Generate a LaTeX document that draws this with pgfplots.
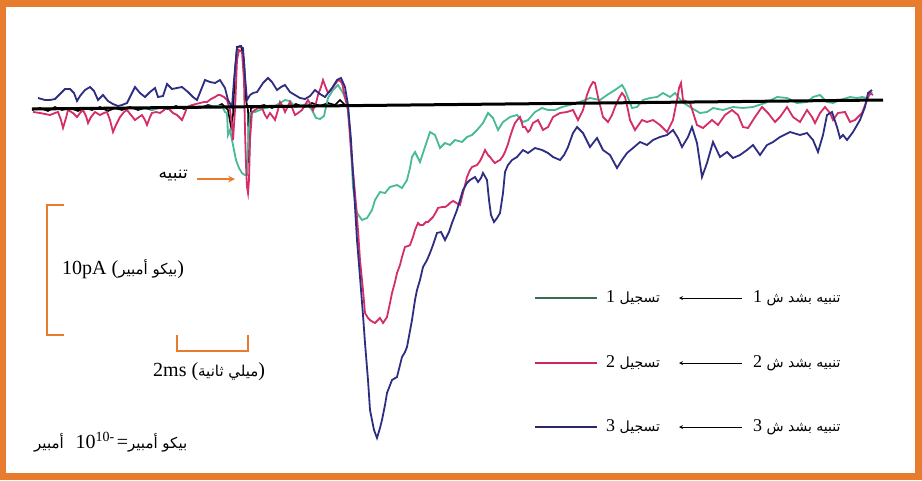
\documentclass[border=0pt]{standalone}
\usepackage{fontspec}
\usepackage{pgfplots}
\pgfplotsset{compat=1.18}
\setmainfont{Liberation Serif}
\newfontfamily\arabicfont[Script=Arabic]{DejaVu Sans}
\TeXXeTstate=1
\definecolor{frameor}{RGB}{232,124,46}
\definecolor{tealc}{RGB}{72,186,150}
\definecolor{magc}{RGB}{212,45,105}
\definecolor{navyc}{RGB}{45,45,130}
\definecolor{leggreen}{RGB}{55,110,80}
\definecolor{legmag}{RGB}{200,40,90}
\definecolor{legnavy}{RGB}{40,40,100}
\newcommand{\lat}{\rmfamily\fontsize{18}{20}\selectfont}
\newcommand{\latb}{\rmfamily\fontsize{20}{22}\selectfont}
\newcommand{\ar}{\arabicfont\fontsize{14}{16}\selectfont}
\newcommand{\arb}{\arabicfont\fontsize{15}{17}\selectfont}
\begin{document}
\begin{tikzpicture}
\begin{axis}[width=922pt,height=480pt,scale only axis,
  xmin=0,xmax=922,ymin=0,ymax=480,y dir=reverse,hide axis,clip=false]
\fill[frameor] (axis cs:0,0) rectangle (axis cs:922,480);
\fill[white] (axis cs:6,7) rectangle (axis cs:915,473);
% black noisy baseline recording
\addplot[black,line width=1.6pt] coordinates {
(32,110) (40,108) (48,111) (55,107) (62,110) (70,108) (78,111) (85,108) (92,110) (100,107) (108,111) (115,108) (122,110) (130,107) (138,110) (145,108) (152,110) (160,107) (168,109) (176,106) (184,109) (192,106) (200,108) (208,105) (216,107) (222,104) (228,110) (231,127) (233,115) (235,70) (237,47) (241,46) (244,60) (246,100) (248,110) (249,163) (250,130) (251,108) (256,107) (264,105) (272,108) (280,105) (288,107) (296,104) (304,107) (312,103) (320,106) (328,103) (335,105) (340,100) (345,105) (350,106)
};
% teal trace (recording 1)
\addplot[tealc,line width=1.8pt] coordinates {
(35,109) (50,109) (70,108.5) (90,108.4) (110,108) (130,108) (150,108.5) (152,110) (160,107.5) (180,107.3) (200,107) (210,106.5) (217,106) (222,106) (225,112) (227,113) (228,135) (230,130) (233,145) (236,160) (239,168) (242,173) (245,175) (247,175) (248,145) (250,113) (255,112) (265,108) (275,106) (285,100) (290,101) (295,107) (300,106) (307,104) (312,110) (316,118) (320,119) (324,116) (328,98) (333,90) (338,85) (343,93) (347,103) (350,130) (353,187) (357,213) (362,220) (367,218) (372,210) (375,200) (380,192) (385,193) (390,187) (397,185) (402,188) (407,180) (410,168) (412,157) (415,152) (420,162) (425,147) (430,132) (435,135) (440,148) (445,143) (450,145) (455,140) (462,142) (467,137) (472,135) (477,130) (483,123) (488,113) (493,118) (498,130) (503,122) (510,117) (517,115) (523,122) (528,120) (535,112) (542,108) (548,110) (555,110) (562,107) (570,105) (580,102) (590,98) (600,100) (607,95) (615,90) (622,85) (625,90) (632,108) (637,107) (643,100) (650,98) (657,97) (663,93) (670,97) (675,93) (682,102) (690,107) (700,113) (707,112) (713,108) (723,110) (733,107) (743,108) (753,107) (765,103) (777,97) (787,98) (797,103) (807,102) (813,97) (820,95) (827,102) (833,103) (840,100) (850,97) (857,98) (862,97) (867,98) (872,92)
};
% magenta trace (recording 2)
\addplot[magc,line width=1.8pt] coordinates {
(33,112) (40,113) (50,115) (55,113) (58,112) (61,120) (63,128) (66,118) (68,110) (73,113) (77,117) (80,113) (83,110) (86,116) (88,123) (91,117) (95,112) (100,115) (104,113) (107,112) (110,120) (113,132) (116,125) (120,117) (124,112) (127,110) (131,115) (135,120) (139,117) (142,115) (145,120) (147,125) (150,117) (152,113) (156,112) (160,113) (164,110) (167,107) (170,110) (173,113) (177,115) (180,118) (182,120) (185,113) (187,107) (192,105) (196,104) (200,103) (204,102) (207,102) (211,99) (215,97) (218,95) (220,95) (224,97) (227,100) (230,110) (232,125) (233,140) (235,110) (237,60) (239,50) (242,52) (244,80) (245,130) (246,165) (247,187) (248,193) (249,180) (250,140) (252,112) (255,110) (258,108) (262,108) (265,115) (267,118) (270,113) (273,117) (275,120) (278,110) (280,102) (283,107) (285,112) (288,106) (290,102) (293,110) (295,115) (298,113) (302,110) (305,105) (308,100) (311,105) (313,110) (316,103) (318,95) (321,87) (323,80) (326,88) (328,93) (331,90) (333,87) (336,83) (338,80) (340,81) (342,83) (345,97) (348,110) (351,150) (355,193) (358,230) (360,260) (363,290) (365,313) (368,318) (370,320) (373,322) (375,323) (378,320) (380,318) (383,323) (385,320) (387,317) (390,303) (392,293) (395,282) (397,273) (400,265) (402,257) (405,247) (408,246) (410,245) (413,237) (415,230) (418,223) (420,225) (423,225) (426,222) (428,222) (431,219) (433,217) (436,212) (438,208) (442,207) (445,207) (448,205) (450,203) (453,201) (455,202) (458,204) (460,205) (463,193) (467,177) (470,170) (472,167) (477,165) (480,161) (482,157) (485,150) (488,155) (490,157) (493,161) (495,163) (498,161) (500,160) (503,156) (505,152) (508,144) (510,137) (513,128) (515,123) (518,119) (520,117) (523,127) (525,127) (528,132) (530,130) (533,123) (538,120) (543,130) (548,127) (553,117) (560,113) (567,112) (573,110) (578,120) (583,110) (587,95) (590,87) (593,82) (595,83) (598,97) (603,117) (608,122) (612,115) (615,107) (619,98) (622,93) (625,97) (628,110) (630,120) (635,130) (642,120) (647,122) (653,120) (660,125) (667,132) (673,120) (677,100) (679,88) (681,83) (683,100) (690,103) (697,125) (703,128) (712,120) (718,125) (725,115) (732,110) (738,115) (743,127) (748,128) (755,117) (762,107) (768,113) (775,122) (780,117) (787,107) (793,117) (800,122) (807,110) (812,117) (815,123) (820,113) (825,107) (830,113) (833,120) (838,113) (845,112) (850,122) (855,120) (862,113) (867,100) (870,93) (873,95)
};
% navy trace (recording 3)
\addplot[navyc,line width=1.8pt] coordinates {
(38,98) (45,100) (50,100) (55,99) (60,94) (65,89) (70,89) (74,93) (77,101) (80,96) (85,90) (90,87) (94,91) (98,100) (103,95) (108,101) (113,104) (118,106) (122,105) (127,103) (131,95) (135,87) (140,93) (145,97) (150,92) (155,88) (158,97) (163,96) (167,84) (172,89) (177,88) (182,87) (188,92) (193,97) (197,100) (201,90) (205,80) (210,82) (215,83) (220,80) (225,88) (228,100) (232,107) (234,80) (237,48) (240,46) (243,48) (245,77) (247,100) (250,95) (253,93) (257,92) (263,83) (268,78) (272,82) (277,90) (281,87) (285,85) (290,92) (295,95) (300,98) (305,99) (310,96) (315,90) (320,94) (325,97) (328,93) (332,88) (337,80) (341,78) (345,87) (348,105) (351,140) (354,190) (357,240) (360,277) (363,315) (365,343) (368,380) (370,410) (374,430) (377,438) (380,428) (382,420) (385,405) (387,393) (392,380) (397,377) (402,357) (405,352) (407,347) (412,320) (415,300) (417,290) (420,280) (423,267) (427,260) (430,253) (433,245) (437,233) (441,232) (445,240) (449,232) (452,223) (457,210) (460,200) (463,190) (467,183) (470,180) (475,177) (478,182) (481,178) (483,173) (487,180) (489,200) (491,215) (494,222) (497,218) (500,213) (503,193) (505,172) (508,165) (512,160) (517,157) (523,150) (528,153) (535,148) (542,150) (548,153) (553,157) (560,160) (564,155) (568,147) (573,133) (577,127) (583,133) (590,147) (597,138) (603,150) (610,155) (617,168) (622,160) (627,153) (633,148) (640,142) (647,145) (653,140) (660,137) (667,135) (673,130) (678,138) (682,147) (688,137) (692,127) (697,143) (702,177) (707,163) (713,142) (720,157) (727,152) (733,158) (740,155) (747,150) (753,145) (760,155) (767,145) (773,142) (780,137) (790,132) (800,135) (807,133) (813,140) (818,152) (823,135) (827,115) (832,112) (837,127) (840,138) (843,135) (847,140) (853,132) (860,120) (865,107) (868,93) (872,90)
};
% straight baseline
\addplot[black,line width=3pt] coordinates {(32,109) (883,100)};
% scale bars
\draw[frameor,line width=2pt] (axis cs:64,205) -- (axis cs:47,205) -- (axis cs:47,335) -- (axis cs:64,335);
\draw[frameor,line width=2pt] (axis cs:177,335) -- (axis cs:177,351) -- (axis cs:248,351) -- (axis cs:248,335);
\node[anchor=west,inner sep=0] at (axis cs:62,269) {\latb 10pA (\arb\beginR بيكو أمبير\endR\latb)};
\node[anchor=west,inner sep=0] at (axis cs:153,372) {\latb 2ms (\arb\beginR ميلي ثانية\endR\latb)};
\node[anchor=west,inner sep=0] at (axis cs:34,442) {\arb\beginR أمبير\endR\latb\hspace{12pt}10\textsuperscript{10-}\hspace{2pt}=\arb\beginR بيكو أمبير\endR};
% stimulus label
\node[anchor=east,inner sep=0] at (axis cs:188,176) {\arabicfont\fontsize{17}{19}\selectfont\beginR تنبيه\endR};
\draw[frameor,line width=2pt,-stealth] (axis cs:197,179) -- (axis cs:235,179);
% legend
\draw[leggreen,line width=2pt] (axis cs:535,298) -- (axis cs:597,298);
\draw[legmag,line width=2pt] (axis cs:535,363) -- (axis cs:597,363);
\draw[legnavy,line width=2pt] (axis cs:535,427) -- (axis cs:597,427);
\draw[black,line width=0.8pt,-stealth] (axis cs:742,298) -- (axis cs:679,298);
\draw[black,line width=0.8pt,-stealth] (axis cs:742,363) -- (axis cs:679,363);
\draw[black,line width=0.8pt,-stealth] (axis cs:742,427) -- (axis cs:679,427);
\node[anchor=west,inner sep=0] at (axis cs:606,298) {\lat 1\ \ar\beginR تسجيل\endR};
\node[anchor=west,inner sep=0] at (axis cs:606,363) {\lat 2\ \ar\beginR تسجيل\endR};
\node[anchor=west,inner sep=0] at (axis cs:606,427) {\lat 3\ \ar\beginR تسجيل\endR};
\node[anchor=west,inner sep=0] at (axis cs:753,298) {\lat 1\ \ar\beginR تنبيه بشد ش\endR};
\node[anchor=west,inner sep=0] at (axis cs:753,363) {\lat 2\ \ar\beginR تنبيه بشد ش\endR};
\node[anchor=west,inner sep=0] at (axis cs:753,427) {\lat 3\ \ar\beginR تنبيه بشد ش\endR};
\end{axis}
\end{tikzpicture}
\end{document}
